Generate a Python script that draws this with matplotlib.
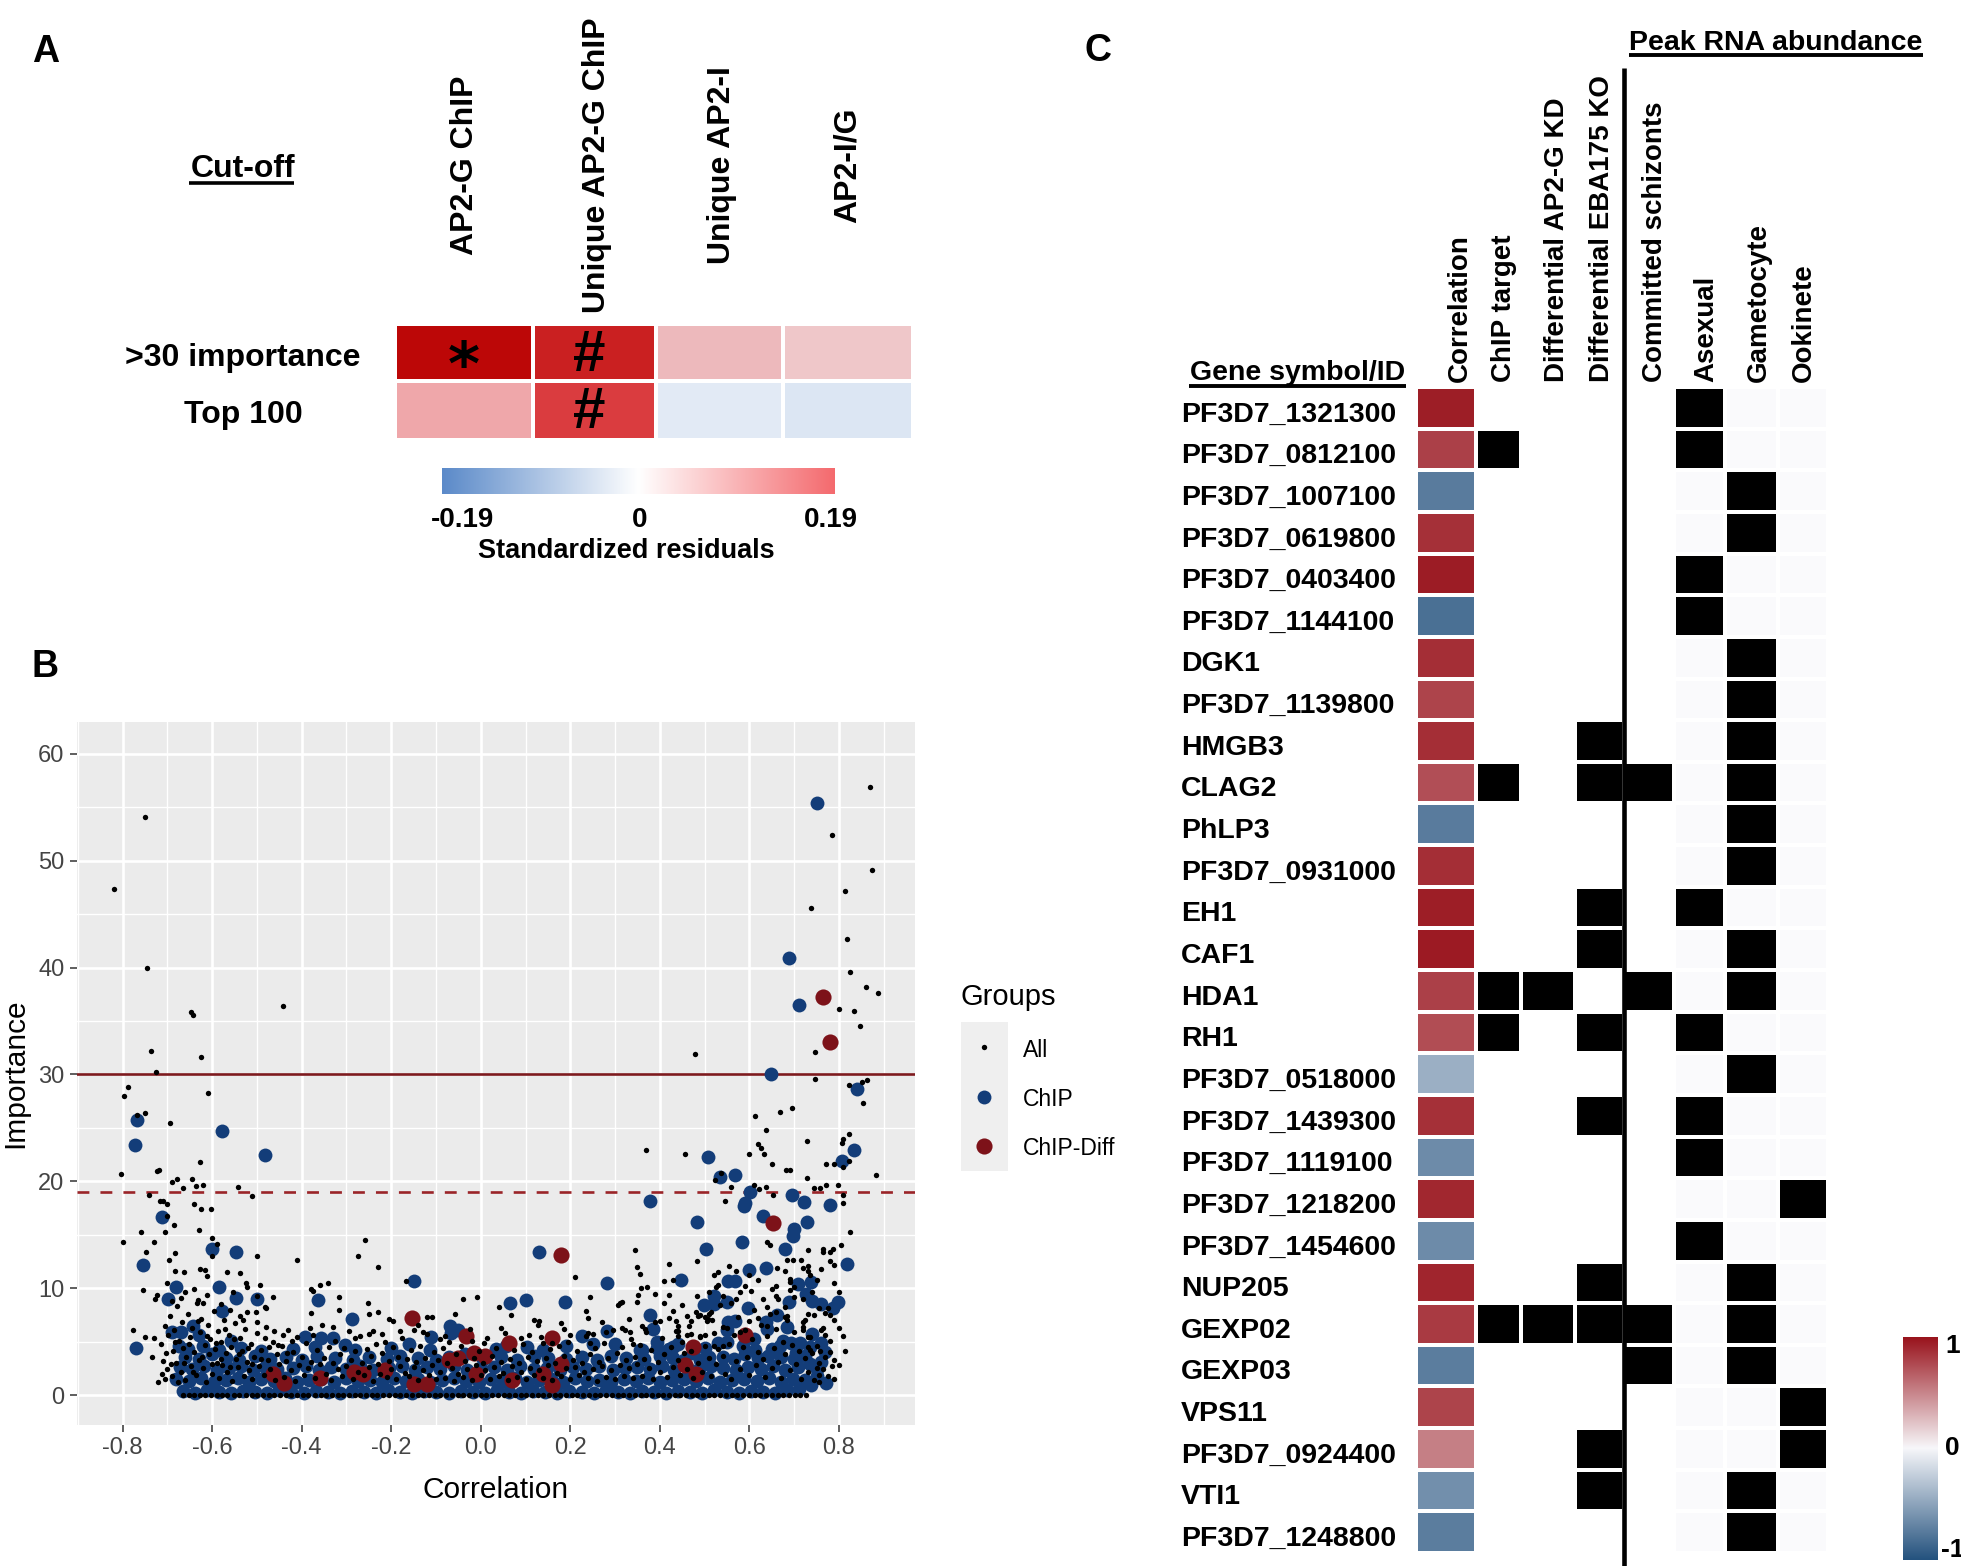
import numpy as np
import matplotlib.pyplot as plt
from matplotlib.colors import LinearSegmentedColormap, ListedColormap, Normalize
from matplotlib.patches import Rectangle

plt.rcParams['font.family'] = ['Liberation Sans', 'DejaVu Sans']

# ---------------- panel A data ----------------
cutoff_rows = ['>30 importance', 'Top 100']
chip_sets = ['AP2-G ChIP', 'Unique AP2-G ChIP', 'Unique AP2-I', 'AP2-I/G']
std_resid = [[0.43, 0.37, 0.095, 0.08],
             [0.118, 0.30, -0.033, -0.04]]
signif = [['*', '#', '', ''],
          ['', '#', '', '']]
resid_ticks = ['-0.19', '0', '0.19']

# ---------------- panel B data ----------------
imp_cutoff = 30
top100_cutoff = 19

all_points = [
    (-0.82, 47.3), (-0.749, 54.1), (-0.745, 40.0), (-0.648, 35.8), (-0.643, 35.6), (-0.441, 36.4),
    (-0.736, 32.2), (-0.626, 31.6), (-0.726, 30.2), (-0.788, 28.8), (-0.797, 28.0), (-0.61, 28.3),
    (-0.75, 26.4), (-0.768, 26.2), (-0.695, 25.5), (-0.628, 21.8), (-0.804, 20.7), (-0.724, 21.0),
    (-0.718, 21.1), (-0.678, 20.2), (-0.69, 19.9), (-0.645, 20.2), (-0.636, 19.6), (-0.621, 19.7),
    (-0.666, 19.4), (-0.542, 19.5), (-0.51, 18.6), (-0.742, 18.7), (-0.711, 18.2), (-0.717, 18.2),
    (-0.70, 17.9), (-0.70, 16.8), (-0.686, 15.9), (-0.706, 15.3), (-0.64, 17.9), (-0.624, 17.4),
    (-0.603, 17.4), (-0.63, 15.4), (-0.60, 14.7), (-0.59, 14.1), (-0.80, 14.3), (-0.76, 15.3),
    (-0.729, 14.3), (-0.748, 13.4), (-0.696, 12.6), (-0.60, 13.0), (-0.50, 13.0), (-0.41, 12.6),
    (-0.683, 13.3), (-0.684, 11.6), (-0.664, 11.5), (-0.628, 11.8), (-0.617, 11.7), (-0.612, 11.1),
    (-0.568, 11.5), (-0.538, 11.4), (-0.755, 9.8), (-0.723, 9.4), (-0.727, 9.0), (-0.524, 10.5),
    (-0.523, 10.1), (-0.494, 10.3), (-0.554, 9.6), (-0.612, 9.4), (-0.631, 8.9), (-0.50, 9.3),
    (-0.465, 9.2), (-0.479, 8.1), (-0.503, 7.8), (-0.481, 8.2), (-0.537, 7.4), (-0.522, 7.8),
    (-0.36, 10.3), (-0.342, 10.5), (-0.374, 9.7), (-0.38, 9.9), (-0.317, 9.2), (-0.317, 8.0),
    (-0.38, 7.7), (-0.381, 6.3), (-0.259, 14.5), (-0.275, 13.0), (-0.776, 6.1), (-0.75, 5.4),
    (-0.73, 5.3), (-0.734, 3.6), (-0.72, 1.2), (-0.705, 1.5),
    (-0.23, 12.0), (-0.167, 10.7), (0.345, 13.6), (0.349, 12.0), (0.356, 11.3), (0.211, 11.0),
    (0.245, 9.2), (-0.04, 9.0), (-0.009, 9.2), (-0.253, 8.6), (-0.25, 7.6), (-0.23, 7.8),
    (-0.204, 7.1), (-0.196, 6.9), (-0.12, 7.3), (-0.11, 7.3), (-0.058, 7.6), (0.041, 8.2),
    (0.067, 7.5), (0.118, 7.0), (0.13, 6.9), (0.128, 6.6), (0.236, 7.9), (0.24, 7.2),
    (0.307, 8.4), (0.311, 8.6), (0.315, 8.7), (0.348, 8.7), (0.352, 9.4), (0.371, 10.1),
    (0.358, 10.0), (0.315, 6.3), (0.322, 6.1), (0.333, 5.9), (0.34, 4.8), (0.18, 6.7),
    (0.185, 6.2), (0.046, 6.3), (0.107, 5.6), (0.24, 5.8), (0.25, 5.7), (0.28, 5.9),
    (-0.14, 6.6), (-0.13, 5.9), (-0.15, 6.1), (-0.24, 6.0), (-0.25, 5.7), (-0.22, 5.7),
    (-0.08, 5.5), (-0.09, 5.2), (0.008, 4.9), (0.14, 4.9), (0.16, 4.9), (0.243, 4.9),
    (0.870, 56.9), (0.785, 52.4), (0.873, 49.1), (0.813, 47.2), (0.738, 45.6), (0.817, 42.7),
    (0.825, 39.6), (0.861, 38.2), (0.887, 37.6), (0.80, 36.1), (0.834, 35.9), (0.847, 34.5),
    (0.747, 32.1), (0.479, 31.9), (0.747, 29.6), (0.822, 29.0), (0.851, 29.3), (0.863, 29.5),
    (0.853, 27.3), (0.695, 26.9), (0.668, 26.5), (0.612, 26.1), (0.637, 24.8), (0.823, 24.4),
    (0.81, 24.0), (0.808, 23.6), (0.728, 23.8), (0.368, 22.9), (0.457, 22.6), (0.60, 22.6),
    (0.619, 23.5), (0.625, 23.1), (0.633, 22.6), (0.651, 21.6), (0.682, 21.1), (0.691, 21.1),
    (0.772, 21.6), (0.79, 21.6), (0.823, 21.9), (0.81, 21.3), (0.883, 20.6), (0.537, 20.8),
    (0.523, 20.1), (0.729, 20.3), (0.772, 19.7), (0.797, 19.7), (0.744, 19.4), (0.757, 19.4),
    (0.61, 19.7), (0.559, 19.5), (0.622, 19.3), (0.637, 19.5), (0.81, 18.7), (0.81, 18.0),
    (0.652, 18.7), (0.545, 18.2),
    (0.825, 15.3), (0.805, 14.0), (0.787, 13.7), (0.78, 13.4), (0.764, 13.7), (0.765, 13.4),
    (0.732, 13.6), (0.78, 12.5), (0.685, 12.6), (0.698, 12.6), (0.716, 12.6), (0.72, 11.9),
    (0.73, 12.1), (0.73, 11.6), (0.735, 11.2), (0.68, 11.6), (0.69, 10.9), (0.69, 10.6),
    (0.662, 11.9), (0.60, 11.2), (0.64, 14.3), (0.645, 14.0), (0.555, 12.1), (0.484, 12.5),
    (0.421, 12.3), (0.41, 10.7), (0.43, 10.8), (0.42, 9.4), (0.484, 9.3), (0.526, 10.1),
    (0.531, 10.3), (0.59, 10.2), (0.603, 9.7), (0.57, 9.0), (0.63, 9.0), (0.65, 9.9),
    (0.66, 9.3), (0.665, 9.0), (0.70, 9.2), (0.69, 9.8), (0.72, 9.0), (0.73, 7.6),
    (0.745, 7.5), (0.755, 8.1), (0.77, 7.7), (0.78, 7.5), (0.775, 8.1), (0.765, 6.3),
    (0.77, 5.6), (0.78, 5.1), (0.813, 4.1), (0.757, 4.1), (0.755, 1.9), (0.755, 1.2),
    (0.75, 2.5), (0.52, 11.2), (0.53, 11.5), (0.51, 9.6), (0.515, 7.8), (0.51, 7.6),
    (0.46, 7.4), (0.485, 7.4), (0.49, 7.5), (0.50, 7.3), (0.507, 7.1), (0.516, 7.0),
    (0.435, 6.9), (0.44, 6.5), (0.44, 6.0), (0.44, 5.5), (0.36, 6.5), (0.366, 6.2),
    (0.40, 6.9), (0.46, 5.6), (0.47, 5.7), (0.49, 5.5), (0.52, 4.6), (0.54, 4.6),
    (0.64, 8.2), (0.68, 8.2), (0.68, 7.3), (0.685, 7.4), (0.72, 6.1), (0.72, 6.4),
    (0.725, 7.0), (0.73, 5.4), (0.73, 4.5), (0.735, 4.2),
]

# the dense low-importance cloud of "All" genes
all_band = [
    (-0.715, 4.8), (-0.71, 3.2), (-0.705, 6.5), (-0.70, 2.4), (-0.698, 5.6), (-0.695, 7.4), (-0.69, 1.8),
    (-0.688, 4.1), (-0.685, 6.1), (-0.68, 3.0), (-0.678, 8.3), (-0.675, 5.1), (-0.67, 2.2), (-0.668, 6.8),
    (-0.665, 4.4), (-0.66, 1.4), (-0.658, 3.6), (-0.655, 7.6), (-0.65, 5.4), (-0.648, 2.7), (-0.645, 6.3),
    (-0.64, 4.0), (-0.637, 1.9), (-0.634, 8.6), (-0.63, 3.3), (-0.627, 5.9), (-0.624, 7.1), (-0.62, 2.5),
    (-0.617, 4.7), (-0.614, 1.2), (-0.61, 6.6), (-0.607, 3.8), (-0.604, 5.2), (-0.60, 2.0), (-0.597, 7.9),
    (-0.594, 4.3), (-0.59, 3.0), (-0.587, 6.0), (-0.584, 1.6), (-0.58, 5.0), (-0.577, 2.8), (-0.574, 7.0),
    (-0.57, 3.9), (-0.566, 2.2), (-0.562, 5.6), (-0.558, 4.5), (-0.555, 1.3), (-0.55, 6.7), (-0.546, 3.4),
    (-0.542, 2.6), (-0.538, 5.3), (-0.534, 4.1), (-0.53, 1.8), (-0.526, 6.2), (-0.522, 3.1), (-0.518, 2.3),
    (-0.514, 4.8), (-0.51, 1.5), (-0.506, 3.6), (-0.50, 5.8), (-0.495, 2.7), (-0.49, 4.2), (-0.485, 1.9),
    (-0.48, 6.4), (-0.475, 3.3), (-0.47, 2.4), (-0.465, 5.0), (-0.46, 1.4), (-0.455, 3.8), (-0.45, 2.9),
    (-0.712, 2.0), (-0.703, 3.9), (-0.692, 2.9), (-0.683, 5.0), (-0.676, 1.2), (-0.662, 3.0),
    (-0.652, 4.8), (-0.643, 2.2), (-0.632, 6.9), (-0.622, 3.6), (-0.611, 5.5), (-0.601, 2.9),
    (-0.592, 4.9), (-0.581, 3.4), (-0.571, 6.2), (-0.561, 2.6), (-0.552, 5.2), (-0.541, 3.8),
    (-0.532, 7.0), (-0.521, 4.4), (-0.511, 2.9), (-0.501, 6.8), (-0.492, 3.4), (-0.482, 5.3),
    (-0.472, 4.5), (-0.462, 6.0), (-0.452, 4.7), (-0.442, 5.6), (-0.432, 3.9), (-0.421, 5.1),
    (-0.66, 9.6), (-0.64, 9.9), (-0.58, 8.5), (-0.56, 8.0), (-0.69, 8.8), (-0.70, 10.5),
    (-0.67, 9.1), (-0.62, 8.6),
    (-0.445, 4.6), (-0.44, 1.7), (-0.435, 3.2), (-0.43, 6.1), (-0.425, 2.3), (-0.42, 4.0), (-0.415, 1.3),
    (-0.41, 5.4), (-0.405, 2.8), (-0.40, 3.6), (-0.395, 1.9), (-0.39, 4.9), (-0.385, 2.5), (-0.38, 3.1),
    (-0.375, 5.6), (-0.37, 1.6), (-0.365, 4.2), (-0.36, 2.9), (-0.355, 6.6), (-0.35, 3.5), (-0.345, 2.0),
    (-0.34, 4.5), (-0.335, 1.4), (-0.33, 3.0), (-0.325, 5.1), (-0.32, 2.4), (-0.315, 3.8), (-0.31, 1.8),
    (-0.305, 4.4), (-0.30, 2.7), (-0.295, 6.0), (-0.29, 3.3), (-0.285, 1.5), (-0.28, 4.1), (-0.275, 2.2),
    (-0.27, 5.5), (-0.265, 3.0), (-0.26, 1.9), (-0.255, 4.3), (-0.25, 2.6), (-0.245, 3.7), (-0.24, 1.3),
    (-0.235, 4.8), (-0.23, 2.9), (-0.225, 2.0), (-0.22, 3.9), (-0.215, 5.0), (-0.21, 1.7), (-0.205, 3.2),
    (-0.20, 2.4), (-0.195, 4.5), (-0.19, 1.5), (-0.185, 3.6), (-0.18, 2.7), (-0.175, 5.3), (-0.17, 2.1),
    (-0.165, 3.4), (-0.16, 1.8), (-0.155, 4.2), (-0.15, 2.6), (-0.145, 3.1), (-0.14, 1.4), (-0.135, 4.6),
    (-0.13, 2.3), (-0.125, 3.5), (-0.12, 5.7), (-0.115, 1.9), (-0.11, 2.8), (-0.105, 4.0), (-0.10, 1.5),
    (-0.28, 5.3), (-0.33, 6.4), (-0.18, 6.0), (-0.02, 5.1), (0.09, 5.3), (0.2, 5.6), (0.27, 6.8), (0.33, 7.1),
    (-0.095, 3.3), (-0.09, 2.2), (-0.085, 4.4), (-0.08, 1.6), (-0.075, 3.0), (-0.07, 5.0), (-0.065, 2.5),
    (-0.06, 1.3), (-0.055, 3.8), (-0.05, 2.0), (-0.045, 4.6), (-0.04, 1.7), (-0.035, 3.2), (-0.03, 2.4),
    (-0.025, 6.2), (-0.02, 1.4), (-0.015, 3.5), (-0.01, 2.8), (-0.005, 4.1), (0.0, 1.9), (0.005, 3.0),
    (0.01, 2.3), (0.015, 5.3), (0.02, 1.5), (0.025, 3.7), (0.03, 2.6), (0.035, 4.4), (0.04, 1.8),
    (0.045, 3.1), (0.05, 2.1), (0.055, 5.8), (0.06, 1.4), (0.065, 3.4), (0.07, 2.7), (0.075, 4.2),
    (0.08, 1.7), (0.085, 3.0), (0.09, 2.2), (0.095, 4.8), (0.10, 1.5), (0.105, 3.6), (0.11, 2.5),
    (0.115, 4.0), (0.12, 1.9), (0.125, 3.2), (0.13, 2.3), (0.135, 5.4), (0.14, 1.6), (0.145, 3.5),
    (0.15, 2.8), (0.155, 4.3), (0.16, 1.4), (0.165, 3.0), (0.17, 2.1), (0.175, 4.6), (0.18, 1.8),
    (0.185, 3.7), (0.19, 2.5), (0.195, 5.0), (0.20, 1.5), (0.205, 3.3), (0.21, 2.6), (0.215, 4.1),
    (0.22, 1.9), (0.225, 3.0), (0.23, 2.2), (0.235, 5.5), (0.24, 1.6), (0.245, 3.8), (0.25, 2.4),
    (0.255, 4.4), (0.26, 1.3), (0.265, 3.1), (0.27, 2.7), (0.275, 4.9), (0.28, 1.7), (0.285, 3.5),
    (0.29, 2.3), (0.295, 6.1), (0.30, 1.5), (0.305, 3.9), (0.31, 2.8), (0.315, 4.5), (0.32, 1.8),
    (0.325, 3.3), (0.33, 2.5), (0.335, 5.2), (0.34, 1.6), (0.345, 3.6), (0.35, 2.9),
    (0.355, 4.7), (0.36, 1.8), (0.365, 3.4), (0.37, 5.9), (0.375, 2.5), (0.38, 4.2), (0.385, 1.5),
    (0.39, 6.8), (0.395, 3.1), (0.40, 2.2), (0.405, 5.3), (0.41, 3.8), (0.415, 1.7), (0.42, 7.2),
    (0.425, 4.5), (0.43, 2.6), (0.435, 6.0), (0.44, 3.3), (0.445, 1.9), (0.45, 5.0), (0.455, 3.9),
    (0.46, 2.4), (0.465, 6.5), (0.47, 4.1), (0.475, 1.6), (0.48, 7.8), (0.485, 3.0), (0.49, 5.4),
    (0.495, 2.2), (0.50, 4.6), (0.505, 6.9), (0.51, 3.5), (0.515, 1.8), (0.52, 5.8), (0.525, 2.9),
    (0.53, 4.3), (0.535, 8.4), (0.54, 3.7), (0.545, 2.0), (0.55, 6.3), (0.555, 4.8), (0.56, 1.5),
    (0.565, 5.6), (0.57, 3.2), (0.575, 7.3), (0.58, 2.4), (0.585, 4.5), (0.59, 6.1), (0.595, 3.6),
    (0.60, 1.9), (0.605, 5.2), (0.61, 8.0), (0.615, 2.8), (0.62, 4.0), (0.625, 6.6), (0.63, 3.4),
    (0.635, 1.7), (0.64, 5.5), (0.645, 7.6), (0.65, 2.5), (0.655, 4.4), (0.66, 6.2), (0.665, 3.1),
    (0.67, 1.6), (0.675, 5.0), (0.68, 3.8), (0.685, 7.0), (0.69, 2.3), (0.695, 4.7), (0.70, 5.9),
    (0.705, 2.9), (0.71, 4.1), (0.715, 1.5), (0.72, 6.8), (0.725, 3.5), (0.73, 2.2), (0.735, 5.4),
    (0.74, 3.9), (0.745, 1.4), (0.75, 4.6), (0.755, 3.0), (0.76, 6.1), (0.765, 2.4), (0.77, 3.6),
    (0.775, 1.8), (0.78, 4.0), (0.785, 2.7), (0.79, 3.3),
    (0.56, 8.6), (0.58, 9.6), (0.62, 10.8), (0.66, 10.2), (0.70, 10.1), (0.74, 9.6), (0.75, 10.8),
    (0.76, 11.8), (0.79, 10.5), (0.80, 9.6), (0.79, 12.2), (0.80, 6.3), (0.79, 7.0), (0.81, 5.5),
    (0.80, 2.8), (0.79, 1.5), (0.62, 7.2), (0.64, 6.5), (0.66, 7.8), (0.60, 6.9), (0.58, 5.9),
    (0.54, 6.4), (0.50, 5.6), (0.47, 6.9), (0.43, 7.9), (0.41, 8.6), (0.39, 9.5), (0.45, 8.4),
    (0.54, 9.3), (0.57, 11.6),
]

# genes with importance 0
zero_corr = [
    -0.665, -0.652, -0.641, -0.628, -0.615, -0.603, -0.59, -0.578, -0.566, -0.551, -0.539, -0.525,
    -0.512, -0.5, -0.487, -0.474, -0.462, -0.448, -0.435, -0.423, -0.41, -0.397, -0.385, -0.371,
    -0.358, -0.346, -0.333, -0.32, -0.307, -0.294, -0.282, -0.269, -0.256, -0.243, -0.231, -0.218,
    -0.205, -0.192, -0.18, -0.167, -0.154, -0.141, -0.128, -0.116, -0.103, -0.09, -0.078, -0.064,
    -0.052, -0.039, -0.026, -0.013, 0.0, 0.012, 0.025, 0.038, 0.051, 0.063, 0.076, 0.089, 0.102,
    0.114, 0.127, 0.14, 0.153, 0.165, 0.178, 0.191, 0.204, 0.216, 0.229, 0.242, 0.255, 0.267,
    0.28, 0.293, 0.306, 0.318, 0.331, 0.344, 0.357, 0.369, 0.382, 0.395, 0.408, 0.42, 0.433,
    0.446, 0.459, 0.471, 0.484, 0.497, 0.51, 0.522, 0.535, 0.548, 0.561, 0.573, 0.586, 0.599,
    0.612, 0.624, 0.637, 0.65, 0.663, 0.675, 0.688, 0.701, 0.714, 0.727,
]

chip_points = [
    (-0.767, 25.7), (-0.577, 24.7), (-0.772, 23.4), (-0.482, 22.5), (-0.713, 16.7), (-0.754, 12.2),
    (-0.601, 13.7), (-0.546, 13.4), (-0.681, 10.1), (-0.585, 10.1), (-0.698, 9.0), (-0.546, 9.1),
    (-0.499, 9.0), (-0.579, 7.9), (-0.363, 8.9), (-0.288, 7.1), (-0.77, 4.4), (-0.642, 6.5),
    (-0.629, 5.6), (-0.69, 5.9), (-0.67, 5.9), (-0.393, 5.4), (-0.356, 5.3), (-0.33, 5.3),
    (-0.558, 5.1), (-0.675, 4.6), (-0.304, 4.7),
    (-0.150, 10.7), (0.130, 13.4), (0.281, 10.5), (0.065, 8.6), (0.10, 8.9), (0.188, 8.7),
    (0.378, 18.2), (0.378, 7.5), (-0.069, 6.5), (-0.111, 5.4), (-0.067, 5.8), (-0.05, 6.1),
    (-0.16, 4.8), (-0.113, 4.2), (0.103, 4.5), (0.056, 4.6), (0.035, 4.3), (0.226, 5.5),
    (0.281, 6.0), (0.25, 4.8), (0.30, 4.8), (0.355, 4.2), (0.19, 4.6),
    (0.750, 55.4), (0.688, 40.9), (0.711, 36.5), (0.648, 30.0), (0.840, 28.6), (0.833, 22.9),
    (0.507, 22.3), (0.807, 21.9), (0.535, 20.4), (0.567, 20.6), (0.602, 19.0), (0.695, 18.7),
    (0.722, 18.1), (0.59, 18.0), (0.78, 17.8), (0.482, 16.2), (0.588, 17.7), (0.630, 16.8),
    (0.729, 16.2), (0.70, 15.5), (0.698, 14.9), (0.584, 14.3), (0.502, 13.7), (0.68, 13.7),
    (0.817, 12.3), (0.60, 11.7), (0.637, 11.9), (0.447, 10.8), (0.552, 10.7), (0.568, 10.7),
    (0.709, 10.4), (0.738, 10.6), (0.726, 9.5), (0.521, 9.3), (0.499, 8.4), (0.551, 8.7),
    (0.522, 8.5), (0.741, 8.8), (0.76, 8.5), (0.799, 8.7), (0.786, 8.1), (0.598, 8.1),
    (0.689, 8.7), (0.662, 7.5), (0.384, 6.2), (0.552, 6.8), (0.55, 6.1), (0.569, 6.9),
    (0.637, 6.8), (0.64, 6.2), (0.683, 6.4), (0.74, 5.7), (0.55, 5.0), (0.394, 5.0),
    (0.394, 4.4), (0.61, 5.2), (0.713, 4.9), (0.669, 4.6), (0.694, 4.9), (0.76, 4.9),
    (0.612, 4.2), (0.642, 3.7), (0.705, 3.9), (0.75, 2.4), (0.36, 4.2), (0.43, 4.5),
    (0.42, 4.3), (0.475, 3.9), (0.49, 3.3), (0.54, 3.6),
]

# ChIP genes with low importance (the blue band)
chip_band = [
    (-0.665, 0.4), (-0.638, 0.2), (-0.611, 0.5), (-0.585, 0.3), (-0.558, 0.2), (-0.531, 0.4),
    (-0.504, 0.3), (-0.477, 0.2), (-0.45, 0.5), (-0.423, 0.3), (-0.396, 0.2), (-0.369, 0.4),
    (-0.342, 0.3), (-0.315, 0.2), (-0.288, 0.4), (-0.261, 0.3), (-0.234, 0.2), (-0.207, 0.5),
    (-0.18, 0.3), (-0.153, 0.2), (-0.126, 0.4), (-0.099, 0.3), (-0.072, 0.2), (-0.045, 0.4),
    (-0.018, 0.3), (0.009, 0.2), (0.036, 0.5), (0.063, 0.3), (0.09, 0.2), (0.117, 0.4),
    (0.144, 0.3), (0.171, 0.2), (0.198, 0.4), (0.225, 0.3), (0.252, 0.2), (0.279, 0.5),
    (0.306, 0.3), (0.333, 0.2), (0.36, 0.4), (0.387, 0.3), (0.414, 0.2), (0.441, 0.4),
    (0.468, 0.3), (0.495, 0.2), (0.522, 0.5), (0.549, 0.3), (0.576, 0.2), (0.603, 0.4),
    (0.63, 0.3), (0.657, 0.2), (0.684, 0.5), (0.711, 0.6), (0.738, 0.9),
    (-0.68, 1.5), (-0.652, 1.3), (-0.624, 1.6), (-0.597, 1.2), (-0.57, 1.4), (-0.543, 1.6),
    (-0.517, 1.2), (-0.49, 1.5), (-0.463, 1.3), (-0.437, 1.6), (-0.41, 1.2), (-0.383, 1.4),
    (-0.356, 1.5), (-0.329, 1.2), (-0.302, 1.6), (-0.275, 1.3), (-0.248, 1.4), (-0.221, 1.2),
    (-0.194, 1.6), (-0.167, 1.3), (-0.14, 1.5), (-0.113, 1.2), (-0.086, 1.4), (-0.059, 1.6),
    (-0.032, 1.3), (-0.005, 1.2), (0.022, 1.5), (0.049, 1.3), (0.076, 1.6), (0.103, 1.2),
    (0.13, 1.4), (0.157, 1.5), (0.184, 1.2), (0.211, 1.6), (0.238, 1.3), (0.265, 1.4),
    (0.292, 1.2), (0.319, 1.5), (0.346, 1.3), (0.373, 1.6), (0.4, 1.2), (0.427, 1.4),
    (0.454, 1.5), (0.481, 1.3), (0.508, 1.6), (0.535, 1.2), (0.562, 1.4), (0.589, 1.5),
    (0.616, 1.3), (0.643, 1.6), (0.67, 1.2), (0.697, 1.5), (0.724, 1.4), (0.752, 1.8), (0.772, 1.1),
    (-0.672, 2.6), (-0.645, 2.4), (-0.618, 2.7), (-0.59, 2.3), (-0.563, 2.5), (-0.536, 2.7),
    (-0.509, 2.3), (-0.482, 2.6), (-0.455, 2.4), (-0.42, 2.5), (-0.39, 2.7), (-0.362, 2.3),
    (-0.335, 2.6), (-0.3, 2.4), (-0.27, 2.7), (-0.24, 2.3), (-0.205, 2.5), (-0.175, 2.7),
    (-0.148, 2.3), (-0.12, 2.6), (-0.09, 2.4), (-0.06, 2.7), (-0.03, 2.3), (0.0, 2.5),
    (0.03, 2.6), (0.058, 2.3), (0.088, 2.7), (0.118, 2.4), (0.148, 2.5), (0.178, 2.3),
    (0.205, 2.6), (0.235, 2.4), (0.265, 2.7), (0.295, 2.3), (0.322, 2.5), (0.35, 2.6),
    (0.378, 2.4), (0.405, 2.7), (0.432, 2.3), (0.46, 2.6), (0.487, 2.4), (0.515, 2.7),
    (0.542, 2.5), (0.57, 2.3), (0.597, 2.6), (0.625, 2.4), (0.652, 2.7), (0.68, 2.3),
    (0.708, 2.6), (0.735, 2.9), (0.76, 3.1),
    (-0.66, 3.6), (-0.63, 3.4), (-0.6, 3.8), (-0.57, 3.5), (-0.54, 3.3), (-0.505, 3.7),
    (-0.47, 3.4), (-0.435, 3.6), (-0.4, 3.3), (-0.365, 3.7), (-0.325, 3.5), (-0.285, 3.3),
    (-0.25, 3.6), (-0.21, 3.4), (-0.18, 3.7), (-0.14, 3.5), (-0.1, 3.3), (-0.07, 3.6),
    (-0.035, 3.8), (0.005, 3.4), (0.045, 3.6), (0.08, 3.3), (0.12, 3.7), (0.15, 3.5),
    (0.19, 3.4), (0.225, 3.6), (0.26, 3.3), (0.29, 3.7), (0.325, 3.5), (0.365, 3.4),
    (0.4, 3.7), (0.43, 3.5), (0.455, 3.3), (0.51, 3.6), (0.565, 3.4), (0.59, 3.8),
    (0.62, 3.5), (0.67, 3.6), (0.7, 3.4), (0.725, 3.7),
    (-0.655, 4.3), (-0.62, 4.6), (-0.585, 4.2), (-0.535, 4.4), (-0.49, 4.1), (-0.42, 4.3),
    (-0.37, 4.5), (-0.28, 4.2), (-0.2, 4.4), (0.14, 4.2), (0.44, 4.8), (0.5, 4.4),
    (0.53, 4.9), (0.585, 4.6), (0.65, 4.3), (0.675, 5.1), (0.735, 4.5), (0.77, 4.0),
]

diff_points = [
    (0.764, 37.2), (0.781, 33.0), (0.653, 16.1), (0.179, 13.1), (-0.154, 7.2), (-0.033, 5.5),
    (0.063, 4.9), (0.159, 5.3), (0.475, 4.5), (0.59, 5.6), (0.456, 2.8), (0.48, 2.0),
    (-0.016, 3.9), (0.01, 3.7), (-0.072, 3.3), (-0.05, 3.5), (0.18, 2.9), (-0.214, 2.3),
    (-0.262, 2.0), (-0.01, 2.0), (0.14, 2.0), (0.07, 1.4), (-0.15, 1.0), (-0.12, 1.0),
    (0.16, 0.9), (-0.464, 2.0), (-0.44, 1.1), (-0.359, 1.6), (-0.283, 2.2),
]

x_ticks = [-0.8, -0.6, -0.4, -0.2, 0.0, 0.2, 0.4, 0.6, 0.8]
y_ticks = [0, 10, 20, 30, 40, 50, 60]

# ---------------- panel C data ----------------
genes = ['PF3D7_1321300', 'PF3D7_0812100', 'PF3D7_1007100', 'PF3D7_0619800', 'PF3D7_0403400',
         'PF3D7_1144100', 'DGK1', 'PF3D7_1139800', 'HMGB3', 'CLAG2', 'PhLP3', 'PF3D7_0931000',
         'EH1', 'CAF1', 'HDA1', 'RH1', 'PF3D7_0518000', 'PF3D7_1439300', 'PF3D7_1119100',
         'PF3D7_1218200', 'PF3D7_1454600', 'NUP205', 'GEXP02', 'GEXP03', 'VPS11',
         'PF3D7_0924400', 'VTI1', 'PF3D7_1248800']
gene_corr = [0.94, 0.79, -0.75, 0.86, 0.95, -0.82, 0.87, 0.78, 0.87, 0.73, -0.75, 0.87,
             0.94, 0.96, 0.79, 0.74, -0.43, 0.86, -0.65, 0.90, -0.65, 0.91, 0.82, -0.74,
             0.78, 0.52, -0.63, -0.74]
chip_target = [0, 1, 0, 0, 0, 0, 0, 0, 0, 1, 0, 0, 0, 0, 1, 1, 0, 0, 0, 0, 0, 0, 1, 0, 0, 0, 0, 0]
diff_ap2g = [0, 0, 0, 0, 0, 0, 0, 0, 0, 0, 0, 0, 0, 0, 1, 0, 0, 0, 0, 0, 0, 0, 1, 0, 0, 0, 0, 0]
diff_eba175 = [0, 0, 0, 0, 0, 0, 0, 0, 1, 1, 0, 0, 1, 1, 0, 1, 0, 1, 0, 0, 0, 1, 1, 0, 0, 1, 1, 0]
committed = [0, 0, 0, 0, 0, 0, 0, 0, 0, 1, 0, 0, 0, 0, 1, 0, 0, 0, 0, 0, 0, 0, 1, 1, 0, 0, 0, 0]
stages = ['Asexual', 'Gametocyte', 'Ookinete']
peak_stage = ['Asexual', 'Asexual', 'Gametocyte', 'Gametocyte', 'Asexual', 'Asexual',
              'Gametocyte', 'Gametocyte', 'Gametocyte', 'Gametocyte', 'Gametocyte', 'Gametocyte',
              'Asexual', 'Gametocyte', 'Gametocyte', 'Asexual', 'Gametocyte', 'Asexual',
              'Asexual', 'Ookinete', 'Asexual', 'Gametocyte', 'Gametocyte', 'Gametocyte',
              'Ookinete', 'Ookinete', 'Gametocyte', 'Gametocyte']
c_columns = ['Correlation', 'ChIP target', 'Differential AP2-G KD', 'Differential EBA175 KO',
             'Committed schizonts', 'Asexual', 'Gametocyte', 'Ookinete']

# ---------------- figure ----------------
W, H = 1961, 1566
fig = plt.figure(figsize=(W / 100, H / 100), dpi=100)


def box(x0, y0, x1, y1):
    # pixel box (top-left origin) -> figure fraction rect
    return [x0 / W, 1 - y1 / H, (x1 - x0) / W, (y1 - y0) / H]


# ---- panel A heatmap ----
cmap_a = LinearSegmentedColormap.from_list(
    'resid', [(0, '#2E5FA6'), (0.2889, '#5B8AC9'), (0.5, '#FFFFFF'), (0.6, '#EDBFC2'),
              (0.7111, '#F46A6E'), (1, '#B80000')])
norm_a = Normalize(-0.45, 0.45)
a_xedges = [0, 138, 261, 388, 518]
a_yedges = [0, 57, 116]
axA = fig.add_axes(box(395, 324, 913, 440))
axA.pcolormesh(a_xedges, a_yedges, np.array(std_resid), cmap=cmap_a, norm=norm_a,
               edgecolors='white', linewidth=1.5)
axA.set_xlim(0, 518)
axA.set_ylim(116, 0)
axA.axis('off')
for i, row in enumerate(signif):
    for j, s in enumerate(row):
        if not s:
            continue
        cx = (a_xedges[j] + a_xedges[j + 1]) / 2
        if s == '*':
            axA.text(cx, a_yedges[i] + 61, s, ha='center', va='baseline', fontsize=44,
                     fontweight='bold', family='DejaVu Sans')
        else:
            axA.text(cx - 5, a_yedges[i] + 47, s, ha='center', va='baseline', fontsize=42,
                     fontweight='bold')

caxA = fig.add_axes(box(442, 468, 835, 494))
cbar_a = LinearSegmentedColormap.from_list('resid_bar', ['#5B8AC9', '#FFFFFF', '#F46A6E'])
caxA.imshow(np.linspace(-0.19, 0.19, 256)[None, :], aspect='auto', cmap=cbar_a,
            norm=Normalize(-0.19, 0.19))
caxA.axis('off')

# ---- panel B scatter ----
axB = fig.add_axes(box(77, 722, 915, 1425))
axB.set_facecolor('#EBEBEB')
for sp in axB.spines.values():
    sp.set_visible(False)

ax_all = np.array(all_points + all_band)
axB.scatter(ax_all[:, 0], ax_all[:, 1], s=15, c='black', linewidths=0, zorder=4)
axB.scatter(zero_corr, np.zeros(len(zero_corr)), s=15, c='black', linewidths=0, zorder=4)
chip = np.array(chip_points + chip_band)
axB.scatter(chip[:, 0], chip[:, 1], s=100, c='#133D79', linewidths=0, zorder=2)
diff = np.array(diff_points)
axB.scatter(diff[:, 0], diff[:, 1], s=135, c='#7D1219', linewidths=0, zorder=3)

axB.axhline(imp_cutoff, color='#7D1A1E', lw=1.9, zorder=1.5)
axB.axhline(top100_cutoff, color='#9A2428', lw=1.9, dashes=(4.5, 4.2), zorder=1.5)

axB.set_xlim(-0.902, 0.970)
axB.set_ylim(-2.8, 62.97)
axB.set_xticks(x_ticks)
axB.set_xticklabels([f'{t:.1f}' for t in x_ticks])
axB.set_yticks(y_ticks)
axB.set_xticks([-0.9, -0.7, -0.5, -0.3, -0.1, 0.1, 0.3, 0.5, 0.7, 0.9], minor=True)
axB.set_yticks([5, 15, 25, 35, 45, 55], minor=True)
axB.set_axisbelow(True)
axB.grid(which='major', color='white', lw=1.9)
axB.grid(which='minor', color='white', lw=1.0)
axB.tick_params(which='major', length=5, width=1.1, color='#333333', labelcolor='#444444',
                labelsize=17, pad=4)
axB.tick_params(which='minor', length=0)

# ---- panel C heatmap ----
corr_cmap = LinearSegmentedColormap.from_list('corr', ['#24527E', '#F7F7FA', '#98111A'])
corr_norm = Normalize(-1, 1)
c_xedges = [0, 60, 104.5, 159, 208, 257.5, 309, 361.5, 412]
rows = np.arange(len(genes) + 1)
axC = fig.add_axes(box(1416, 387, 1828, 1553))
axC.pcolormesh(c_xedges[0:2], rows, np.array(gene_corr)[:, None], cmap=corr_cmap,
               norm=corr_norm, edgecolors='white', linewidth=1.5)
flags = np.array([chip_target, diff_ap2g, diff_eba175, committed]).T
axC.pcolormesh(c_xedges[1:6], rows, flags, cmap=ListedColormap(['#FFFFFF', '#000000']),
               vmin=0, vmax=1, edgecolors='white', linewidth=1.5)
stage_mat = np.array([[int(p == s) for s in stages] for p in peak_stage])
axC.pcolormesh(c_xedges[5:9], rows, stage_mat, cmap=ListedColormap(['#FAFAFC', '#000000']),
               vmin=0, vmax=1, edgecolors='white', linewidth=1.5)
axC.set_xlim(0, 412)
axC.set_ylim(len(genes), 0)
axC.axis('off')
for i, g in enumerate(genes):
    axC.text(-235, i + 0.83, g, ha='left', va='baseline', fontsize=20.5, fontweight='bold')
c_label_x = [44, 88, 141, 186, 239, 290, 343, 388]
for lx, lab in zip(c_label_x, c_columns):
    axC.text(lx, -0.12, lab, rotation=90, ha='center', va='bottom', fontsize=20,
             fontweight='bold')

caxC = fig.add_axes(box(1902.7, 1336.7, 1937.3, 1560))
caxC.imshow(np.linspace(-1, 1, 256)[:, None], aspect='auto', cmap=corr_cmap, norm=corr_norm,
            origin='lower')
caxC.axis('off')

# ---- overlay for titles, labels and decorations (pixel coords) ----
ov = fig.add_axes([0, 0, 1, 1], zorder=10)
ov.set_xlim(0, W)
ov.set_ylim(H, 0)
ov.axis('off')
ov.patch.set_alpha(0)

for letter, (lx, ly) in zip('ABC', [(45.5, 62), (45.5, 677), (1098, 61)]):
    ov.text(lx, ly, letter, ha='center', va='baseline', fontsize=27, fontweight='bold')

# panel A labels
ov.text(243, 177, 'Cut-off', ha='center', va='baseline', fontsize=23, fontweight='bold')
ov.plot([189, 294], [183, 183], color='black', lw=2.6, solid_capstyle='butt')
for lab, by in zip(cutoff_rows, [366, 423]):
    ov.text(243, by, lab, ha='center', va='baseline', fontsize=23, fontweight='bold')
for lab, cx in zip(chip_sets, [465, 597, 722, 848]):
    ov.text(cx, 165, lab, rotation=90, ha='center', va='center', fontsize=23, fontweight='bold')
for lab, cx in zip(resid_ticks, [462, 640, 831]):
    ov.text(cx, 527, lab, ha='center', va='baseline', fontsize=20, fontweight='bold')
ov.text(626, 558, 'Standardized residuals', ha='center', va='baseline', fontsize=19.5,
        fontweight='bold')

# panel B labels + legend
ov.text(496, 1498, 'Correlation', ha='center', va='baseline', fontsize=21.5)
ov.text(15, 1073, 'Importance', rotation=90, ha='center', va='center', fontsize=21.5)
ov.text(961, 1005, 'Groups', ha='left', va='baseline', fontsize=21)
ov.add_patch(Rectangle((960.7, 1021.7), 47.6, 149, facecolor='#EFEFEF', edgecolor='none'))
for lab, ky, col, sz in zip(['All', 'ChIP', 'ChIP-Diff'], [1047.3, 1096.7, 1145.7],
                            ['black', '#133D79', '#7D1219'], [15, 100, 135]):
    ov.scatter([984.3], [ky], s=sz, c=col, linewidths=0)
    ov.text(1023, ky + 9.5, lab, ha='left', va='baseline', fontsize=16.5)

# panel C decorations
ov.text(1776, 50, 'Peak RNA abundance', ha='center', va='baseline', fontsize=20.5,
        fontweight='bold')
ov.plot([1629, 1923], [55, 55], color='black', lw=2.8, solid_capstyle='butt')
ov.text(1297.5, 380, 'Gene symbol/ID', ha='center', va='baseline', fontsize=20.5,
        fontweight='bold')
ov.plot([1189, 1406], [386, 386], color='black', lw=2.8, solid_capstyle='butt')
ov.plot([1624, 1624], [68, H], color='black', lw=3.3, solid_capstyle='butt')
for lab, (lx, ly) in zip(['1', '0', '-1'], [(1945, 1346), (1945, 1448), (1941, 1550)]):
    ov.text(lx, ly, lab, ha='left', va='center', fontsize=19, fontweight='bold')

fig.savefig('out.png', dpi=100, facecolor='white')
